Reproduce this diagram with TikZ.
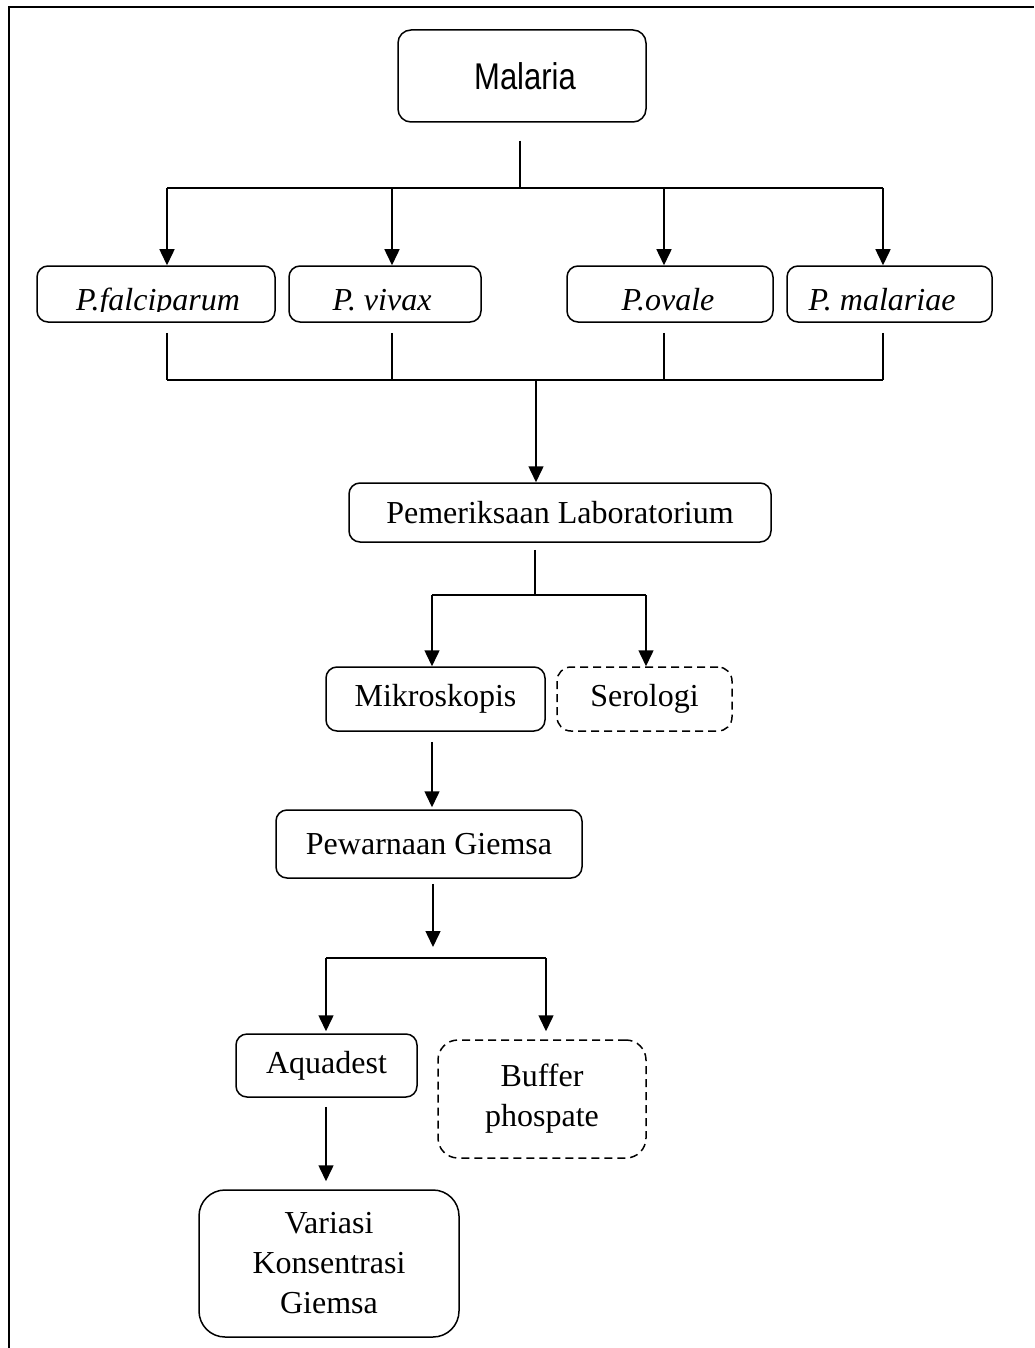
\documentclass[tikz,border=0pt]{standalone}
\usepackage{fontspec}
\usepackage{graphicx}
\setmainfont{Liberation Serif}
\newfontfamily\arialf{Liberation Sans}
\usetikzlibrary{arrows.meta,calc}
\begin{document}
\begin{tikzpicture}[x=1pt,y=-1pt,
  box/.style={draw, line width=1.5pt, rounded corners=11pt, inner sep=0pt, align=center,
    font=\fontsize{32}{40}\selectfont},
  dbox/.style={box, dash pattern=on 8pt off 5pt},
  lbl/.style={inner sep=0pt, anchor=base, font=\fontsize{32}{40}\selectfont\itshape},
  conn/.style={line width=1.5pt},
  arr/.style={conn, -{Triangle[width=15pt,length=16pt]}}]
\useasboundingbox (0,0) rectangle (1034,1348);
% frame
\draw[line width=2pt] (1034,7) -- (9,7) -- (9,1348);

% nodes
\node[box, rounded corners=13pt, minimum width=248pt, minimum height=92pt] (mal) at (522,76) {};
\node[inner sep=0pt, anchor=base, font=\arialf\fontsize{31}{36}\selectfont] (malt) at (525,90) {\scalebox{1}[1.2]{Malaria}};

\node[box, minimum width=238pt, minimum height=56pt] (pf) at (156,294) {};
\node[box, minimum width=192pt, minimum height=56pt] (pv) at (385,294) {};
\node[box, minimum width=206pt, minimum height=56pt] (po) at (670,294) {};
\node[box, minimum width=205pt, minimum height=56pt] (pm) at (889.5,294) {};
\begin{scope}
\clip (20,250) rectangle (300,311);
\node[lbl] (pft) at (158,310) {P.falciparum};
\end{scope}
\node[lbl] (pvt) at (382,310) {P. vivax};
\node[lbl] (pot) at (668,310) {P.ovale};
\node[lbl] (pmt) at (882,310) {P. malariae};

\node[box, minimum width=422pt, minimum height=59pt] (pem) at (560,512.5) {Pemeriksaan Laboratorium};
\node[box, minimum width=219pt, minimum height=64pt] (mik) at (435.5,699) {Mikroskopis};
\node[dbox, rounded corners=14pt, minimum width=175pt, minimum height=64pt] (ser) at (644.5,699) {Serologi};
\node[box, minimum width=306pt, minimum height=68pt] (pew) at (429,844) {Pewarnaan Giemsa};
\node[box, minimum width=181pt, minimum height=63pt] (aqu) at (326.5,1065.5) {Aquadest};
\node[dbox, rounded corners=20pt, minimum width=208pt, minimum height=118pt] (buf) at (542,1099) {Buffer\\phospate};
\node[box, rounded corners=26pt, minimum width=260pt, minimum height=147pt] (var) at (329,1263.5) {Variasi\\Konsentrasi\\Giemsa};

% junction coordinates
\coordinate (j1) at (520,188);
\coordinate (t1) at (167,188);
\coordinate (t2) at (392,188);
\coordinate (t3) at (664,188);
\coordinate (t4) at (883,188);
\coordinate (b1) at (167,380);
\coordinate (b2) at (392,380);
\coordinate (b3) at (664,380);
\coordinate (b4) at (883,380);
\coordinate (jb) at (536,380);
\coordinate (j3) at (535,595);
\coordinate (c1) at (432,595);
\coordinate (c2) at (646,595);
\coordinate (d0) at (433,947);
\coordinate (e1) at (326,958);
\coordinate (e2) at (546,958);

% connectors
\draw[conn] ($(j1 |- mal.south)+(0,18)$) -- (j1);
\draw[conn] (t1) -- (t4);
\draw[arr] (t1) -- (t1 |- pf.north);
\draw[arr] (t2) -- (t2 |- pv.north);
\draw[arr] (t3) -- (t3 |- po.north);
\draw[arr] (t4) -- (t4 |- pm.north);

\draw[conn] ($(b1 |- pf.south)+(0,10)$) -- (b1);
\draw[conn] ($(b2 |- pv.south)+(0,10)$) -- (b2);
\draw[conn] ($(b3 |- po.south)+(0,10)$) -- (b3);
\draw[conn] ($(b4 |- pm.south)+(0,10)$) -- (b4);
\draw[line width=2.5pt] (b1) -- (b4);
\draw[arr] (jb) -- (jb |- pem.north);

\draw[conn] ($(j3 |- pem.south)+(0,7)$) -- (j3);
\draw[conn] (c1) -- (c2);
\draw[arr] (c1) -- (c1 |- mik.north);
\draw[arr] (c2) -- (c2 |- ser.north);

\draw[arr] ($(c1 |- mik.south)+(0,10)$) -- ($(c1 |- pew.north)+(0,-2)$);
\draw[arr] ($(d0 |- pew.south)+(0,5)$) -- (d0);
\draw[conn] (e1) -- (e2);
\draw[arr] (e1) -- ($(e1 |- aqu.north)+(0,-2)$);
\draw[arr] (e2) -- ($(e2 |- buf.north)+(0,-8)$);
\draw[arr] ($(e1 |- aqu.south)+(0,9)$) -- ($(e1 |- var.north)+(0,-8)$);
\end{tikzpicture}
\end{document}
